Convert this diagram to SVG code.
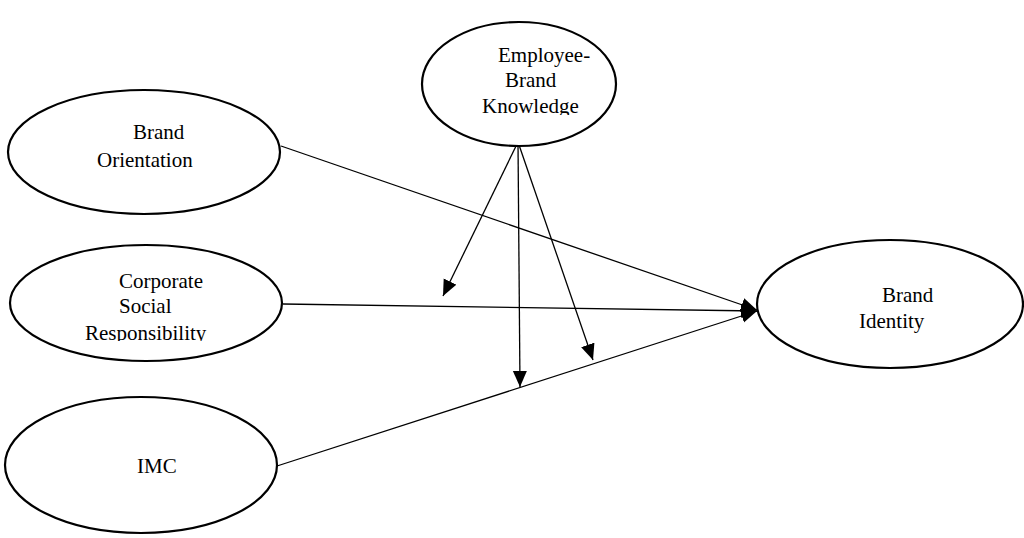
<svg xmlns="http://www.w3.org/2000/svg" width="1024" height="538" viewBox="0 0 1024 538">
<style>
.node ellipse{fill:#fff;stroke:#000;stroke-width:2.2}
.node text{font-family:"Liberation Serif","Times New Roman",serif;font-size:21px;fill:#000}
.edge{stroke:#000;stroke-width:1.3;fill:none;marker-end:url(#ah)}
</style>
<defs>
<marker id="ah" markerUnits="userSpaceOnUse" markerWidth="17" markerHeight="15" refX="16" refY="7" orient="auto">
<path d="M0,0 L16,7 L0,14 z" fill="#000"/>
</marker>
<clipPath id="c1"><rect x="400" y="0" width="240" height="115"/></clipPath>
<clipPath id="c2"><rect x="0" y="230" width="300" height="111"/></clipPath>
</defs>
<rect width="1024" height="538" fill="#fff"/>
<g id="connectors">
<line class="edge" x1="281" y1="146" x2="757" y2="310"/>
<line class="edge" x1="283" y1="304" x2="757" y2="311"/>
<line class="edge" x1="277" y1="466" x2="757" y2="311"/>
<line class="edge" x1="518" y1="142" x2="443" y2="296"/>
<line class="edge" x1="518" y1="142" x2="520" y2="387"/>
<line class="edge" x1="518" y1="142" x2="593" y2="360"/>
</g>
<g id="employee-brand-knowledge" class="node">
<ellipse cx="519" cy="84" rx="97" ry="62"/>
<g clip-path="url(#c1)">
<text x="498" y="62">Employee-</text>
<text x="505" y="87">Brand</text>
<text x="482" y="113">Knowledge</text>
</g>
</g>
<g id="brand-orientation" class="node">
<ellipse cx="144" cy="152" rx="136" ry="62"/>
<text x="133" y="139">Brand</text>
<text x="97" y="167">Orientation</text>
</g>
<g id="csr" class="node">
<ellipse cx="146" cy="303" rx="136" ry="58"/>
<g clip-path="url(#c2)">
<text x="119" y="288">Corporate</text>
<text x="119" y="313">Social</text>
<text x="85" y="340">Responsibility</text>
</g>
</g>
<g id="imc" class="node">
<ellipse cx="141" cy="465" rx="136" ry="68"/>
<text x="137" y="473">IMC</text>
</g>
<g id="brand-identity" class="node">
<ellipse cx="890" cy="304" rx="133" ry="64"/>
<text x="882" y="302">Brand</text>
<text x="859" y="328">Identity</text>
</g>
</svg>
